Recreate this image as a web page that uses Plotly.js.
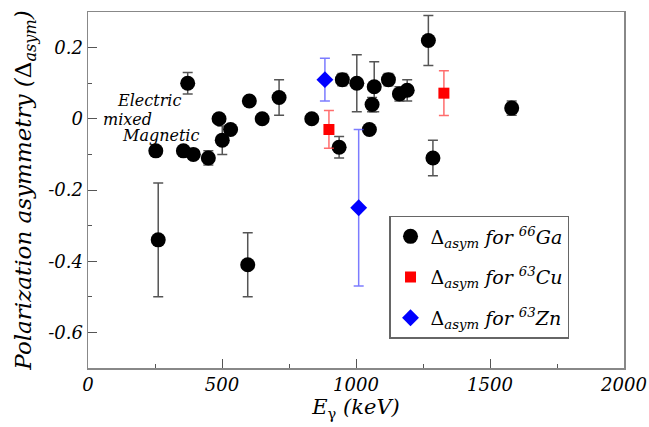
<!DOCTYPE html>
<html>
<head>
<meta charset="utf-8">
<script src="https://cdn.plot.ly/plotly-3.0.1.min.js"></script>
<style>html,body{margin:0;padding:0;background:#fff;}#chart{width:649px;height:427px;}</style>
</head>
<body>
<div id="chart"></div>
<script>
// Data
const gaEnergy = [253, 262, 356, 372, 393, 449, 489, 501, 532, 596, 602, 650, 713, 835, 937, 949, 1003, 1050, 1060, 1068, 1121, 1162, 1191, 1270, 1287, 1581];
const gaAsym   = [-0.09, -0.34, -0.09, 0.10, -0.10, -0.11, 0.00, -0.06, -0.03, -0.41, 0.05, 0.00, 0.06, 0.00, -0.08, 0.11, 0.10, -0.03, 0.04, 0.09, 0.11, 0.07, 0.08, 0.22, -0.11, 0.03];
const gaErr    = [0.01, 0.16, 0.01, 0.03, 0.01, 0.02, 0.01, 0.04, 0.01, 0.09, 0.01, 0.01, 0.05, 0.01, 0.03, 0.017, 0.08, 0.01, 0.02, 0.07, 0.017, 0.02, 0.03, 0.07, 0.05, 0.02];

const cuEnergy = [899, 1328];
const cuAsym   = [-0.03, 0.072];
const cuErr    = [0.053, 0.063];

const znEnergy = [884, 1010];
const znAsym   = [0.11, -0.25];
const znErr    = [0.06, 0.22];

const xTicks = [0, 500, 1000, 1500, 2000];
const xTickText = ["0", "500", "1000", "1500", "2000"];
const yTicks = [-0.6, -0.4, -0.2, 0, 0.2];
const yTickText = ["-0.6", "-0.4", "-0.2", "0", "0.2"];

const labelTexts = ["Electric", "mixed", "Magnetic"];
const labelX = [229, 146, 272];
const labelY = [0.052, -0.001, -0.047];

const serif = "DejaVu Serif";

const traces = [
  {
    x: gaEnergy, y: gaAsym, type: "scatter", mode: "markers", legendgroup: "ga",
    name: "Δ<sub><i>asym</i></sub> <i>for</i> <sup><i>66</i></sup><i>Ga</i>",
    marker: {symbol: "circle", size: 15, color: "#000"},
    error_y: {type: "data", array: gaErr, visible: true, color: "#555", thickness: 1.5, width: 5}
  },
  {
    x: cuEnergy, y: cuAsym, type: "scatter", mode: "markers", legendgroup: "cu",
    name: "Δ<sub><i>asym</i></sub> <i>for</i> <sup><i>63</i></sup><i>Cu</i>",
    marker: {symbol: "square", size: 11, color: "#ff0000"},
    error_y: {type: "data", array: cuErr, visible: true, color: "rgba(255,60,60,0.75)", thickness: 1.5, width: 5}
  },
  {
    x: znEnergy, y: znAsym, type: "scatter", mode: "markers", legendgroup: "zn",
    name: "Δ<sub><i>asym</i></sub> <i>for</i> <sup><i>63</i></sup><i>Zn</i>",
    marker: {symbol: "diamond", size: 13, color: "#0000ff"},
    error_y: {type: "data", array: znErr, visible: true, color: "rgba(80,80,255,0.75)", thickness: 1.5, width: 5}
  }
];

const annotations = labelTexts.map((t, i) => ({
  x: labelX[i], y: labelY[i], xref: "x", yref: "y", text: "<i>" + t + "</i>",
  showarrow: false, xanchor: "center", yanchor: "middle",
  font: {family: serif, size: 16, color: "#000"}
}));

const layout = {
  width: 649, height: 427,
  margin: {l: 88, r: 25, t: 12, b: 59},
  paper_bgcolor: "#fff", plot_bgcolor: "#fff",
  showlegend: true,
  legend: {
    x: 0.5616, y: 0.427, xanchor: "left", yanchor: "top",
    bgcolor: "#fff", bordercolor: "#666", borderwidth: 1.5,
    font: {family: serif, size: 19, color: "#000"},
    itemsizing: "trace", traceorder: "grouped", tracegroupgap: 13
  },
  xaxis: {
    range: [0, 2000], showgrid: false, zeroline: false,
    showline: true, linecolor: "#888", linewidth: 1.5, mirror: true,
    ticks: "inside", ticklen: 9, tickwidth: 1, tickcolor: "#555",
    tickmode: "array", tickvals: xTicks, ticktext: xTickText,
    minor: {dtick: 250, tick0: 0, ticks: "inside", ticklen: 4, tickcolor: "#555", showgrid: false},
    tickfont: {family: serif, size: 18, color: "#000", style: "italic"},
    title: {text: "<i>E</i><sub>γ</sub> <i>(keV)</i>", font: {family: serif, size: 21, color: "#000"}, standoff: 3}
  },
  yaxis: {
    range: [-0.7, 0.3], showgrid: false, zeroline: false,
    showline: true, linecolor: "#888", linewidth: 1.5, mirror: true,
    ticks: "inside", ticklen: 9, tickwidth: 1, tickcolor: "#555",
    tickmode: "array", tickvals: yTicks, ticktext: yTickText,
    minor: {dtick: 0.1, tick0: 0, ticks: "inside", ticklen: 4, tickcolor: "#555", showgrid: false},
    tickfont: {family: serif, size: 18, color: "#000", style: "italic"},
    title: {text: "<i>Polarization asymmetry (</i>Δ<sub><i>asym</i></sub><i>)</i>", font: {family: serif, size: 23, color: "#000"}, standoff: 10}
  },
  annotations: annotations
};

Plotly.newPlot("chart", traces, layout, {displayModeBar: false, staticPlot: true});
</script>
</body>
</html>
